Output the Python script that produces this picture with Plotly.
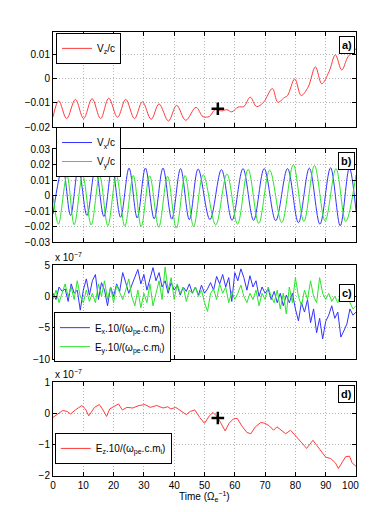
import plotly.graph_objects as go

# panel a) Vz/c, extrema
t_a = [0, 1.9, 4.5, 7.4, 10.1, 12.9, 15.7, 18.4, 21.3, 24.0, 26.9, 29.5, 32.4, 35.0, 38.1,
       40.8, 43.8, 47.2, 49.5, 51.6, 53.5, 55.8, 57.4, 59.0, 61.1, 63.0, 65.1, 67.2, 69.5,
       72.4, 74.2, 76.3, 77.4, 79.8, 81.9, 84.2, 86.6, 88.7, 91.1, 93.2, 95.3, 97.4, 100]
vz = [-0.0158, -0.0091, -0.0165, -0.0085, -0.0165, -0.0082, -0.0165, -0.0080, -0.0160,
      -0.0085, -0.0165, -0.0095, -0.0168, -0.0104, -0.0175, -0.0110, -0.0172, -0.0118,
      -0.0157, -0.0156, -0.0128, -0.0133, -0.0128, -0.0137, -0.0117, -0.0115, -0.0076,
      -0.0115, -0.0097, -0.0040, -0.0097, -0.0078, -0.0069, 0.0000, -0.0069, -0.0034,
      0.0050, -0.0020, 0.0030, 0.0100, 0.0037, 0.0093, 0.0125]

# panel b) Vx/c and Vy/c
t_vx = [0, 3.2, 5.8, 8.4, 11.2, 14.0, 16.8, 19.5, 22.3, 25.1, 27.8, 30.5, 33.4, 36.3, 39.2,
        42.1, 45.0, 47.9, 51.8, 55.6, 59.1, 62.7, 66.2, 69.7, 73.5, 77.4, 81.0, 84.6, 88.1,
        91.6, 94.8, 97.8, 100]
vx = [-0.0120, 0.0180, -0.0128, 0.0180, -0.0128, 0.0180, -0.0135, 0.0180, -0.0140, 0.0178,
      -0.0145, 0.0178, -0.0150, 0.0178, -0.0152, 0.0175, -0.0155, 0.0172, -0.0155, 0.0168,
      -0.0160, 0.0175, -0.0160, 0.0175, -0.0162, 0.0175, -0.0175, 0.0178, -0.0185, 0.0180,
      -0.0195, 0.0178, -0.0100]
t_vy = [0, 1.8, 4.6, 7.0, 9.8, 12.6, 15.4, 18.1, 20.9, 23.7, 26.5, 29.1, 31.9, 34.9, 37.8,
        40.7, 43.6, 46.4, 49.6, 53.7, 57.4, 60.9, 64.4, 67.9, 71.5, 75.5, 79.3, 82.8, 86.3,
        89.8, 93.4, 96.6, 100]
vy = [0.0000, -0.0185, 0.0130, -0.0188, 0.0130, -0.0190, 0.0128, -0.0195, 0.0130, -0.0198,
      0.0130, -0.0200, 0.0128, -0.0205, 0.0125, -0.0210, 0.0130, -0.0200, 0.0135, -0.0190,
      0.0140, -0.0185, 0.0170, -0.0180, 0.0165, -0.0175, 0.0200, -0.0168, 0.0195, -0.0165,
      0.0175, -0.0168, 0.0135]

# panel c) Ex, Ey (units of 1e-7), one sample per time unit
t_c = list(range(101))
ex = [0.5, -0.5, 1.5, 0.8, 1.2, -0.8, 2.0, 0.5, 1.0, -2.2,
      1.0, 2.8, 0.2, 2.5, 3.5, -0.5, 2.2, 1.0, -1.5, 1.5,
      0.0, 2.0, 0.8, 3.8, 2.2, 0.5, 1.8, 3.0, 4.3, 2.0,
      3.5, 1.0, 3.0, 4.6, 2.5, 3.8, 1.5, 2.5, 0.5, 2.2,
      1.0, 1.8, 0.2, 1.5, 0.8, 2.0, 0.5, 1.5, 0.2, 1.8,
      0.5, 1.2, 2.2, 1.0, 3.2, 2.0, 3.5, 1.5, 3.0, -0.8,
      3.8, 2.5, 4.4, 3.0, 1.0, 3.3, 1.5, 2.5, 0.0, 1.5,
      0.5, 1.2, -0.5, 0.8, -1.0, 0.5, -1.5, 0.2, -1.0, 0.5,
      -2.0, -3.9, -1.0, -2.5, -0.5, -4.2, -2.0, -5.8, -3.5, -6.8,
      -4.0, -3.0, -1.5, -3.5, -2.5, -6.5, -5.5, -4.4, -2.0, -3.0, -2.5]
ey = [-0.5, 1.0, -1.0, 0.5, 2.0, 0.0, 1.5, -0.5, 2.5, 0.0,
      -1.0, 1.0, -0.8, 0.5, -1.0, 2.0, 0.0, 2.5, -0.5, 1.5,
      -1.0, 1.8, 0.5, -0.5, 1.0, 2.8, 0.0, -1.5, 1.0, -1.8,
      0.5, -1.0, 2.0, -1.5, 0.5, 2.5, -0.5, 4.7, 1.0, 3.0,
      -0.5, 2.0, 0.5, 1.5, -0.8, 1.0, 0.5, 1.5, 0.0, 1.0,
      -1.0, -2.4, 0.5, 1.2, -0.5, 2.0, 0.5, 1.5, -1.0, 0.8,
      -0.5, 0.5, 1.8, 0.0, -1.0, 0.5, -0.5, 1.0, -1.5, 0.5,
      -0.5, 1.5, 0.0, -1.0, 1.0, -2.0, 0.5, -2.8, 1.5, -1.0,
      3.0, 0.0, -1.5, 1.0, -0.5, 2.5, 0.0, -1.0, 3.0, 0.5,
      -0.5, 0.5, -0.8, 0.0, -1.0, 0.5, -0.5, 1.0, -1.0, -2.0, -1.5]

# panel d) Ez (units of 1e-7)
t_d = [0, 1.6, 3.2, 4.7, 5.8, 7.4, 9.5, 10.7, 11.8, 13.7, 15.3, 16.3, 17.7, 18.7, 20.5,
       21.6, 22.9, 24.4, 26.3, 28.4, 30.3, 32.1, 34.2, 36.3, 37.9, 38.9, 40.5, 42.1, 44.0,
       45.3, 46.8, 48.4, 50.0, 51.6, 52.8, 53.9, 55.3, 56.8, 58.1, 59.5, 60.8, 62.3, 64.0,
       65.3, 66.8, 68.6, 70.0, 71.4, 72.8, 73.9, 75.3, 76.8, 78.4, 80.2, 82.1, 83.7, 84.7,
       85.8, 86.8, 88.4, 90.0, 91.6, 93.2, 94.2, 95.6, 96.6, 97.9, 98.7, 100]
ez = [-0.13, -0.02, 0.09, 0.06, -0.02, 0.11, 0.25, 0.14, -0.08, 0.19, 0.28, 0.14, -0.10,
      0.14, 0.25, 0.30, 0.11, 0.19, 0.17, 0.25, 0.28, 0.19, 0.25, 0.17, 0.21, 0.14, 0.19,
      0.09, -0.04, 0.06, 0.11, -0.13, -0.32, -0.08, 0.03, -0.08, -0.29, -0.56, -0.32, -0.18,
      -0.16, -0.40, -0.61, -0.65, -0.43, -0.29, -0.32, -0.40, -0.54, -0.43, -0.54, -0.65,
      -0.54, -0.72, -0.94, -1.12, -0.99, -0.86, -0.99, -1.20, -1.40, -1.44, -1.58, -1.76,
      -1.53, -1.38, -1.37, -1.58, -1.69]

# the "+" marks
mark_t = [54.4]
mark_a = [-0.0124]
mark_d = [-0.15]

# time axis ticks
x_ticks = [0, 10, 20, 30, 40, 50, 60, 70, 80, 90, 100]
x_ticklabels = ['0', '10', '20', '30', '40', '50', '60', '70', '80', '90', '100']

RED = 'rgb(255,60,60)'
BLUE = 'rgb(50,50,255)'
GREEN = 'rgb(40,230,40)'
FONT = 'Liberation Sans, Arial, sans-serif'

fig = go.Figure()


def line(x, y, name, color, xa, ya, leg, spline=False):
    fig.add_trace(go.Scatter(
        x=x, y=y, name=name, mode='lines',
        line=dict(color=color, width=1, shape='spline' if spline else 'linear', smoothing=1.0),
        xaxis=xa, yaxis=ya, legend=leg
    ))


line(t_a, vz, 'V<sub>z</sub>/c', RED, 'x', 'y', 'legend', spline=True)
line(t_vx, vx, 'V<sub>x</sub>/c', BLUE, 'x2', 'y2', 'legend2', spline=True)
line(t_vy, vy, 'V<sub>y</sub>/c', GREEN, 'x2', 'y2', 'legend2', spline=True)
line(t_c, ex, 'E<sub>x</sub>.10/(ω<sub>pe</sub>.c.m<sub>i</sub>)', BLUE, 'x3', 'y3', 'legend3')
line(t_c, ey, 'E<sub>y</sub>.10/(ω<sub>pe</sub>.c.m<sub>i</sub>)', GREEN, 'x3', 'y3', 'legend3')
line(t_d, ez, 'E<sub>z</sub>.10/(ω<sub>pe</sub>.c.m<sub>i</sub>)', RED, 'x4', 'y4', 'legend4')

for ya, xa, yv in [('y', 'x', mark_a), ('y4', 'x4', mark_d)]:
    fig.add_trace(go.Scatter(
        x=mark_t, y=yv, mode='markers', showlegend=False, xaxis=xa, yaxis=ya,
        marker=dict(symbol='cross-thin', size=9, color='black',
                    line=dict(color='black', width=2.5))
    ))

# panel domains (paper fractions)
domains = [[0.786, 1.0], [0.527, 0.736], [0.2635, 0.475], [0.0, 0.2117]]
yranges = [[-0.02, 0.0195], [-0.03, 0.03], [-10, 5], [-2, 1]]
ydticks = [0.01, 0.01, 5, 1]

axis_common = dict(
    ticks='inside', ticklen=4, tickcolor='black', mirror='ticks',
    showline=True, linecolor='black', linewidth=1,
    showgrid=True, gridcolor='#b4b4b4', griddash='1px,2px', gridwidth=1,
    zeroline=False, tickfont=dict(family=FONT, size=10, color='black')
)

# the last label sits at the very edge of the page: pad it so it stays inside
bottom_text = x_ticklabels[:-1] + [x_ticklabels[-1] + '\u00a0' * 4]

layout_axes = {}
for i in range(4):
    s = '' if i == 0 else str(i + 1)
    layout_axes['xaxis' + s] = dict(
        axis_common, domain=[0, 1], range=[0, 100],
        tickmode='array', tickvals=x_ticks, ticktext=bottom_text,
        ticklabeloverflow='allow',
        anchor='y' + s, showticklabels=(i == 3)
    )
    layout_axes['yaxis' + s] = dict(
        axis_common, domain=domains[i], range=yranges[i], dtick=ydticks[i],
        anchor='x' + s
    )

leg_common = dict(
    bordercolor='black', borderwidth=1, bgcolor='white',
    font=dict(family=FONT, size=10, color='black'),
    xanchor='left', yanchor='top', itemwidth=30, tracegroupgap=0
)

# the page body keeps an 8px margin, so the figure is 16px smaller than the window
fig.update_layout(
    width=365, height=496,
    margin=dict(l=45, r=3, t=24, b=28),
    paper_bgcolor='white', plot_bgcolor='white',
    font=dict(family=FONT, size=10, color='black'),
    legend=dict(leg_common, x=0.01, y=0.998),
    legend2=dict(leg_common, x=0.01, y=0.786),
    legend3=dict(leg_common, x=0.003, y=0.369),
    legend4=dict(leg_common, x=0.006, y=0.097),
    **layout_axes
)

# panel tags
for txt, yc in [('a)', 0.971), ('b)', 0.7095), ('c)', 0.412), ('d)', 0.185)]:
    fig.add_annotation(
        text='<b>%s</b>' % txt, xref='paper', yref='paper', x=0.997, y=yc,
        xanchor='right', yanchor='middle', showarrow=False,
        bordercolor='black', borderwidth=1, borderpad=2, bgcolor='white',
        font=dict(family=FONT, size=11, color='black')
    )

# exponent labels
for yc in [0.493, 0.23]:
    fig.add_annotation(
        text='x 10<sup>−7</sup>', xref='paper', yref='paper', x=0.0, y=yc,
        xanchor='left', yanchor='middle', showarrow=False,
        font=dict(family=FONT, size=10, color='black')
    )

fig.add_annotation(
    text='Time (Ω<sub>e</sub><sup>−1</sup>)', xref='paper', yref='paper', x=0.5, y=-0.047,
    xanchor='center', yanchor='middle', showarrow=False,
    font=dict(family=FONT, size=10, color='black')
)

fig.write_html("out.html")
